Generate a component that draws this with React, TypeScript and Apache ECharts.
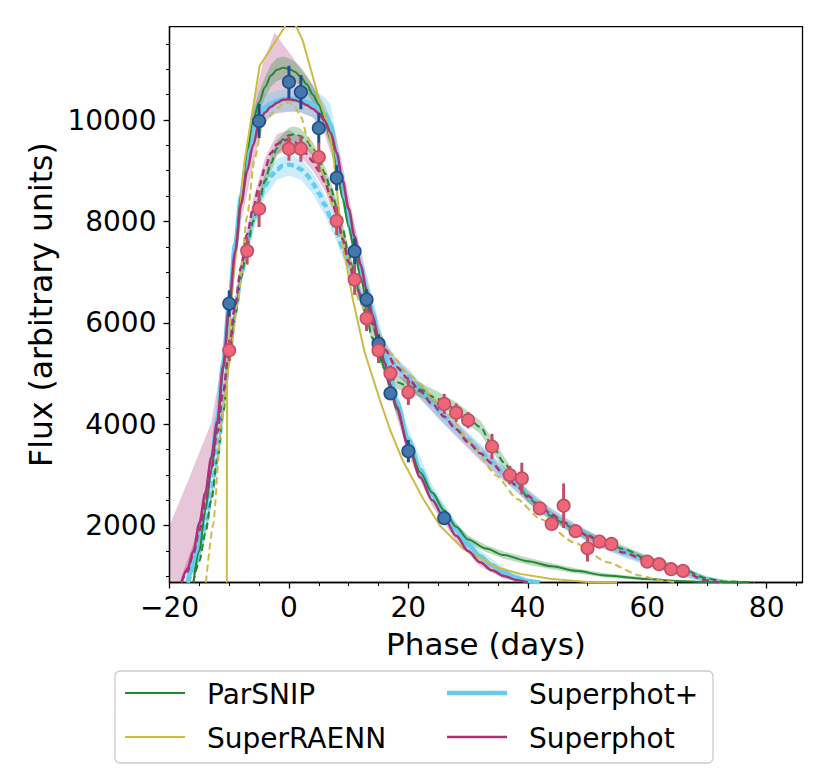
import React, { useEffect, useRef } from "react";
import * as echarts from "echarts";

// ---------- data ----------
const xTicks = [-20, 0, 20, 40, 60, 80];
const xMinorTicks = [-15, -10, -5, 5, 10, 15, 25, 30, 35, 45, 50, 55, 65, 70, 75, 85];
const yTicks = [2000, 4000, 6000, 8000, 10000];
const yMinorTicks = [1000, 1500, 2500, 3000, 3500, 4500, 5000, 5500, 6500, 7000, 7500, 8500, 9000, 9500, 10500, 11000, 11500];

// observations: [phase, flux, error]
const bluePoints = [
  [-10, 6380, 260], [-5, 9980, 340], [0, 10750, 320], [2, 10550, 340], [5, 9840, 300],
  [8, 8860, 250], [11, 7410, 260], [13, 6460, 200], [15, 5590, 180], [17, 4610, 130],
  [20, 3470, 220], [26, 2150, 80],
];
const redPoints = [
  [-10, 5460, 210], [-7, 7420, 270], [-5, 8250, 360], [0, 9435, 240], [2, 9435, 260],
  [5, 9270, 280], [8, 8013, 280], [11, 6853, 300], [13, 6090, 250], [15, 5456, 250],
  [17, 5004, 160], [20, 4630, 250], [26, 4400, 200], [28, 4228, 180], [30, 4080, 160],
  [34, 3562, 250], [37, 2998, 180], [39, 2932, 310], [42, 2343, 130], [44, 2034, 100],
  [46, 2394, 440], [48, 1892, 120], [50, 1555, 260], [52, 1686, 70], [54, 1641, 60],
  [60, 1293, 45], [62, 1241, 45], [64, 1143, 45], [66, 1110, 45],
];

// ParSNIP
const parsnipSolid = [
  [-16, 880], [-15, 1500], [-14, 2300], [-13, 3100], [-12, 4000], [-11, 5100], [-10, 6300],
  [-9, 7400], [-8, 8500], [-7, 9400], [-6, 10000], [-5, 10350], [-4, 10650], [-3, 10880],
  [-2, 10990], [-1, 11030], [0, 11010], [1, 10950], [2, 10850], [3, 10700], [4, 10500],
  [5, 10300], [6, 10000], [7, 9600], [8, 9050], [9, 8450], [10, 7900], [11, 7400], [12, 6900],
  [13, 6450], [14, 6000], [15, 5550], [16, 5100], [17, 4700], [18, 4300], [20, 3600],
  [22, 3050], [24, 2650], [26, 2300], [28, 1980], [30, 1730], [33, 1550], [36, 1420],
  [40, 1300], [44, 1200], [48, 1110], [53, 1020], [60, 950], [65, 910], [70, 890], [76, 880],
];
const parsnipSolidBand = [
  [-16, 880, 950], [-15, 1400, 1600], [-14, 2180, 2420], [-13, 2970, 3230], [-12, 3860, 4140],
  [-11, 4950, 5250], [-10, 6140, 6460], [-9, 7230, 7570], [-8, 8320, 8680], [-7, 9220, 9580],
  [-6, 9810, 10190], [-5, 10150, 10550], [-4, 10450, 10850], [-3, 10660, 11100], [-2, 10770, 11220],
  [-1, 10810, 11250], [0, 10800, 11220], [1, 10760, 11150], [2, 10670, 11040], [3, 10530, 10880],
  [4, 10340, 10670], [5, 10140, 10460], [6, 9850, 10150], [7, 9460, 9740], [8, 8920, 9180],
  [9, 8330, 8570], [10, 7790, 8010], [11, 7290, 7510], [12, 6800, 7000], [13, 6350, 6550],
  [14, 5900, 6100], [15, 5460, 5640], [16, 5010, 5190], [17, 4620, 4780], [18, 4220, 4380],
  [20, 3530, 3670], [22, 2980, 3120], [24, 2580, 2720], [26, 2230, 2370], [28, 1910, 2050],
  [30, 1660, 1800], [33, 1480, 1620], [36, 1350, 1490], [40, 1230, 1370], [44, 1140, 1260],
  [48, 1060, 1160], [53, 980, 1060], [60, 920, 980], [65, 890, 930], [70, 880, 900],
];
const parsnipDashed = [
  [-16, 880], [-15, 1300], [-14, 1850], [-13, 2500], [-12, 3300], [-11, 4250], [-10, 5300],
  [-9, 6150], [-8, 6900], [-7, 7500], [-6, 8000], [-5, 8400], [-4, 8800], [-3, 9150],
  [-2, 9450], [-1, 9620], [0, 9700], [1, 9720], [2, 9680], [3, 9580], [4, 9430], [5, 9250],
  [6, 8950], [7, 8650], [8, 8300], [9, 7850], [10, 7350], [11, 6900], [12, 6500], [13, 6100],
  [14, 5700], [15, 5350], [16, 5100], [17, 4930], [18, 4830], [20, 4750], [22, 4680],
  [25, 4500], [28, 4300], [30, 4120], [32, 3950], [34, 3600], [36, 3250], [38, 2900],
  [40, 2560], [42, 2370], [44, 2190], [46, 2040], [48, 1910], [50, 1800], [53, 1670],
  [56, 1540], [60, 1350], [63, 1240], [66, 1140], [70, 960], [73, 900], [78, 880],
];
const parsnipDashedBand = [
  [-16, 880, 950], [-14, 1750, 1950], [-12, 3180, 3420], [-10, 5160, 5440], [-8, 6770, 7030],
  [-6, 7870, 8130], [-4, 8660, 8940], [-2, 9300, 9600], [0, 9550, 9850], [1, 9570, 9870],
  [2, 9530, 9830], [4, 9290, 9570], [6, 8810, 9090], [8, 8160, 8440], [10, 7210, 7490],
  [12, 6370, 6630], [14, 5580, 5820], [16, 4980, 5220], [18, 4700, 4960], [20, 4610, 4890],
  [22, 4540, 4820], [25, 4360, 4640], [28, 4160, 4440], [30, 3990, 4250], [32, 3820, 4080],
  [34, 3470, 3730], [36, 3130, 3370], [38, 2790, 3010], [40, 2460, 2660], [42, 2280, 2460],
  [44, 2100, 2280], [46, 1960, 2120], [48, 1830, 1990], [50, 1720, 1880], [53, 1600, 1740],
  [56, 1470, 1610], [60, 1290, 1410], [63, 1180, 1300], [66, 1090, 1190], [70, 920, 1000],
  [73, 880, 930], [78, 880, 890],
];

// SuperRAENN
const raennSolid = [
  [-10.4, 880], [-10.35, 4900], [-9.7, 6380], [-7.4, 9213], [-4.9, 11070], [-0.7, 11835],
  [0, 12050], [1, 11900], [2.3, 11570], [3.7, 10980], [5.1, 10390], [6.3, 10000], [7.4, 9350],
  [8.3, 8300], [9.1, 7500], [10.7, 6460], [12.7, 5411], [15.2, 4492], [16.9, 3902], [19, 3300],
  [22.5, 2525], [25.3, 2000], [29.2, 1542], [34.8, 1181], [38.7, 1050], [43.7, 952], [50, 890],
  [55, 880],
];
const raennDashed = [
  [-13.9, 880], [-12.7, 2020], [-11.3, 4034], [-10.8, 4500], [-10, 5200], [-8.6, 6380],
  [-7, 8100], [-5.8, 9213], [-4.4, 9921], [-2.7, 10150], [-1, 10320], [0, 10350], [1, 10250],
  [2.1, 10050], [2.9, 9725], [4, 9397], [5.4, 9003], [7.4, 8295], [9.6, 7400], [11.9, 6394],
  [14.1, 5935], [17, 5400], [20, 5000], [22, 4800], [24.5, 4480], [27, 4164], [30.3, 3640],
  [34.8, 2984], [38.2, 2525], [42.1, 2132], [47.7, 1673], [53.3, 1280], [58.8, 1017],
  [62.2, 920], [65, 880],
];

// Superphot+
const plusSolid = [
  [-17, 880], [-16, 1250], [-15, 1750], [-14, 2400], [-13, 3200], [-12, 4100], [-11, 5200],
  [-10, 6400], [-9, 7550], [-8, 8500], [-7, 9250], [-6, 9800], [-5, 10100], [-4, 10250],
  [-3, 10330], [-2, 10380], [-1, 10410], [0, 10420], [1, 10420], [2, 10400], [3, 10360],
  [4, 10300], [5, 10220], [6, 10130], [7, 9900], [8, 9200], [9, 8600], [10, 8050], [11, 7550],
  [12, 7100], [13, 6650], [14, 6200], [15, 5750], [16, 5320], [17, 4880], [18, 4460],
  [20, 3700], [22, 3100], [24, 2620], [26, 2250], [28, 1920], [30, 1630], [32, 1400],
  [34, 1220], [36, 1080], [38, 980], [40, 910], [42, 880],
];
const plusSolidBand = [
  [-17, 880, 1000], [-16, 1050, 1500], [-14, 2150, 2700], [-12, 3800, 4400], [-10, 6100, 6700],
  [-8, 8200, 8800], [-6, 9550, 10050], [-4, 10000, 10500], [-2, 10150, 10580], [0, 10180, 10620],
  [2, 10150, 10620], [4, 10050, 10600], [6, 9800, 10450], [7, 9500, 10300], [8, 8900, 9600],
  [10, 7800, 8350], [12, 6900, 7450], [14, 6000, 6500], [16, 5100, 5600], [18, 4250, 4700],
  [20, 3500, 3900], [24, 2450, 2800], [28, 1780, 2070], [32, 1300, 1520], [36, 1000, 1170],
  [40, 880, 960], [42, 880, 900],
];
const plusDashed = [
  [-17, 880], [-16, 1100], [-15, 1500], [-14, 2000], [-13, 2650], [-12, 3400], [-11, 4350],
  [-10, 5400], [-9, 6250], [-8, 6950], [-7, 7550], [-6, 8000], [-5, 8400], [-4, 8700],
  [-3, 8900], [-2, 9030], [-1, 9100], [0, 9120], [1, 9100], [2, 9030], [3, 8920], [4, 8750],
  [5, 8560], [6, 8330], [7, 8080], [8, 7800], [9, 7480], [10, 7150], [11, 6850], [12, 6550],
  [13, 6250], [14, 5990], [16, 5490], [18, 5140], [20, 4940], [22, 4660], [24, 4400],
  [26, 4150], [28, 3930], [30, 3690], [32, 3470], [34, 3250], [36, 3030], [38, 2810],
  [40, 2590], [42, 2390], [44, 2215], [46, 2060], [48, 1925], [50, 1800], [53, 1625],
  [56, 1475], [60, 1300], [63, 1185], [66, 1075], [70, 940], [73, 880],
];
const plusDashedBand = [
  [-17, 880, 950], [-15, 1350, 1650], [-13, 2450, 2850], [-11, 4100, 4600], [-10, 5150, 5650],
  [-8, 6700, 7200], [-6, 7780, 8220], [-4, 8480, 8920], [-2, 8820, 9240], [0, 8900, 9320],
  [2, 8820, 9240], [4, 8540, 8960], [6, 8120, 8540], [8, 7600, 8000], [10, 6960, 7340],
  [12, 6380, 6740], [14, 5820, 6160], [16, 5330, 5650], [18, 4980, 5300], [20, 4780, 5100],
  [22, 4500, 4820], [24, 4240, 4560], [26, 3990, 4310], [28, 3770, 4090], [30, 3540, 3840],
  [32, 3320, 3620], [34, 3100, 3400], [36, 2890, 3170], [38, 2670, 2950], [40, 2450, 2720],
  [42, 2260, 2520], [44, 2090, 2340], [46, 1940, 2180], [48, 1810, 2040], [50, 1690, 1910],
  [53, 1520, 1730], [56, 1380, 1570], [60, 1210, 1390], [63, 1100, 1270], [66, 990, 1160],
  [70, 880, 1000], [73, 880, 900],
];

// Superphot
const superSolid = [
  [-18, 880], [-17, 1150], [-16, 1500], [-15, 2050], [-14, 2650], [-13, 3350], [-12, 4050],
  [-11, 5150], [-10, 6350], [-9, 7400], [-8, 8350], [-7, 9000], [-6, 9500], [-5, 9950],
  [-4, 10150], [-3, 10260], [-2, 10340], [-1, 10400], [0, 10410], [1, 10390], [2, 10350],
  [3, 10290], [4, 10220], [5, 10130], [6, 9980], [7, 9750], [8, 9350], [9, 8800], [10, 8250],
  [11, 7700], [12, 7150], [13, 6650], [14, 6150], [15, 5700], [16, 5230], [17, 4780],
  [18, 4350], [20, 3550], [22, 2950], [24, 2500], [26, 2150], [28, 1800], [30, 1500],
  [32, 1280], [34, 1120], [36, 1010], [38, 930], [40, 880],
];
const superSolidBand = [
  [-20, 880, 2000], [-18, 880, 2570], [-16.5, 1300, 3000], [-15, 1800, 3450], [-13, 3100, 4030],
  [-12, 3850, 4700], [-11, 4900, 5500], [-10, 6050, 6550], [-8, 8000, 8800], [-6, 9100, 10300],
  [-4.4, 9920, 11100], [-2.4, 10120, 11725], [-1, 10150, 11495], [0.7, 10170, 11233],
  [2, 10150, 11000], [4, 10050, 10700], [6, 9700, 10300], [7.7, 9100, 9800], [9, 8500, 9100],
  [11, 7400, 7950], [13, 6400, 6900], [15, 5450, 5950], [17, 4550, 5000], [20, 3400, 3700],
  [24, 2380, 2620], [28, 1700, 1900], [32, 1200, 1360], [36, 950, 1070], [40, 880, 900],
];
const superDashed = [
  [-18, 880], [-17, 1100], [-16, 1450], [-15, 1900], [-14, 2450], [-13, 3100], [-12, 3850],
  [-11, 4650], [-10, 5500], [-9, 6350], [-8, 7100], [-7, 7750], [-6, 8250], [-5, 8700],
  [-4, 9050], [-3, 9350], [-2, 9520], [-1, 9600], [0, 9610], [1, 9560], [2, 9460], [3, 9330],
  [4, 9180], [5, 9000], [6, 8780], [7, 8480], [8, 8150], [9, 7650], [10, 7200], [11, 6850],
  [12, 6550], [13, 6250], [14, 5980], [15, 5720], [16, 5480], [18, 5130], [20, 4900],
  [22, 4650], [24, 4400], [26, 4150], [28, 3900], [30, 3650], [32, 3430], [34, 3230],
  [36, 3020], [38, 2800], [40, 2590], [42, 2390], [44, 2220], [46, 2070], [48, 1930],
  [50, 1800], [53, 1620], [56, 1470], [60, 1310], [63, 1200], [66, 1085], [70, 920], [72, 880],
];
const superDashedBand = [
  [-18, 880, 1000], [-16, 1250, 1650], [-14, 2250, 2650], [-12, 3650, 4050], [-10, 5300, 5700],
  [-8, 6920, 7280], [-6, 8060, 8440], [-4, 8850, 9250], [-2, 9320, 9720], [0, 9410, 9810],
  [2, 9270, 9650], [4, 9000, 9360], [6, 8610, 8950], [8, 7980, 8320], [10, 7040, 7360],
  [12, 6390, 6710], [14, 5830, 6130], [16, 5330, 5630], [18, 4980, 5280], [20, 4750, 5050],
  [24, 4250, 4550], [28, 3760, 4040], [32, 3290, 3570], [36, 2890, 3150], [40, 2470, 2710],
  [44, 2110, 2330], [48, 1830, 2030], [53, 1530, 1710], [60, 1230, 1390], [66, 1010, 1160],
  [70, 880, 980], [72, 880, 900],
];

const legendNames = ["ParSNIP", "SuperRAENN", "Superphot+", "Superphot"];

// ---------- styling ----------
const GREEN = "#228833";
const YELLOW = "#CCBB44";
const CYAN = "#66CCEE";
const PURPLE = "#AA3377";
const FONT = "DejaVu Sans";

function bandSeries(band: number[][], color: string, opacity: number) {
  return {
    type: "custom",
    clip: true,
    silent: true,
    z: 1,
    data: [[band[0][0], band[0][1]]],
    encode: { x: 0, y: 1 },
    renderItem: (params: any, api: any) => {
      const top = band.map((b) => api.coord([b[0], b[2]]));
      const bot = band
        .slice()
        .reverse()
        .map((b) => api.coord([b[0], b[1]]));
      return {
        type: "polygon",
        shape: { points: top.concat(bot) },
        style: { fill: color, opacity, stroke: "none" },
      };
    },
  };
}

function lineSeries(name: string, data: number[][], color: string, width: number, dashed: boolean, smooth: any, z = 2) {
  return {
    type: "line",
    name,
    data,
    showSymbol: false,
    symbol: "none",
    smooth,
    smoothMonotone: "x",
    clip: true,
    z,
    lineStyle: { color, width, type: dashed ? [7, 4] : "solid", cap: "butt" },
  };
}

function errSeries(points: number[][], color: string) {
  return {
    type: "custom",
    clip: true,
    silent: true,
    z: 5,
    data: points,
    encode: { x: 0, y: 1 },
    renderItem: (params: any, api: any) => {
      const x = api.value(0);
      const y = api.value(1);
      const e = api.value(2);
      const p1 = api.coord([x, y - e]);
      const p2 = api.coord([x, y + e]);
      return {
        type: "line",
        shape: { x1: p1[0], y1: p1[1], x2: p2[0], y2: p2[1] },
        style: { stroke: color, lineWidth: 3 },
      };
    },
  };
}

function pointSeries(points: number[][], fill: string, edge: string) {
  return {
    type: "scatter",
    data: points.map((p) => [p[0], p[1]]),
    symbol: "circle",
    symbolSize: 12.5,
    z: 6,
    itemStyle: { color: fill, borderColor: edge, borderWidth: 1.6, opacity: 1 },
  };
}

export default function App() {
  const ref = useRef<HTMLDivElement>(null);
  useEffect(() => {
    if (!ref.current) return;
    const chart = echarts.init(ref.current, null, { renderer: "svg" });
    const fmtX = (v: number) => (v < 0 ? "\u2212" + Math.abs(v) : String(v));
    const fmtY = (v: number) => String(v);
    const axisFont = { fontFamily: FONT, fontSize: 28, color: "#000" };

    const legendItems: any[] = [];
    const legendSpec = [
      { name: legendNames[0], color: GREEN, w: 2, x: 125, y: 693 },
      { name: legendNames[1], color: YELLOW, w: 2, x: 125, y: 737 },
      { name: legendNames[2], color: CYAN, w: 4.5, x: 447, y: 693 },
      { name: legendNames[3], color: PURPLE, w: 2.5, x: 447, y: 737 },
    ];
    legendItems.push({
      type: "rect",
      shape: { x: 115, y: 671, width: 598, height: 92, r: 5 },
      style: { fill: "rgba(255,255,255,0.8)", stroke: "#cccccc", lineWidth: 1.3 },
      z: 10,
    });
    legendSpec.forEach((s) => {
      legendItems.push({
        type: "line",
        shape: { x1: s.x, y1: s.y, x2: s.x + 60, y2: s.y },
        style: { stroke: s.color, lineWidth: s.w },
        z: 11,
      });
      legendItems.push({
        type: "text",
        x: s.x + 82,
        y: s.y + 1,
        style: { text: s.name, font: `28px "${FONT}"`, fill: "#000", textVerticalAlign: "middle", textAlign: "left" },
        z: 11,
      });
    });

    chart.setOption({
      animation: false,
      backgroundColor: "#fff",
      grid: {
        left: 169.5,
        right: 27.5,
        top: 26.7,
        bottom: 195.5,
        show: true,
        borderColor: "#000",
        borderWidth: 1.3,
        backgroundColor: "transparent",
      },
      xAxis: [
        {
          type: "value",
          min: -20,
          max: 86,
          name: "Phase (days)",
          nameLocation: "middle",
          nameGap: 46,
          nameTextStyle: { fontFamily: FONT, fontSize: 31, color: "#000" },
          axisLine: { show: true, onZero: false, lineStyle: { color: "#000", width: 1.3 } },
          axisTick: { show: true, length: 6, customValues: xTicks, lineStyle: { color: "#000", width: 1.3 } },
          axisLabel: { ...axisFont, margin: 11, customValues: xTicks, formatter: fmtX },
          splitLine: { show: false },
        },
        {
          type: "value",
          min: -20,
          max: 86,
          position: "bottom",
          axisLine: { show: false, onZero: false },
          axisTick: { show: true, length: 3.5, customValues: xMinorTicks, lineStyle: { color: "#000", width: 1 } },
          axisLabel: { show: false },
          splitLine: { show: false },
        },
      ],
      yAxis: [
        {
          type: "value",
          min: 880,
          max: 11840,
          name: "Flux (arbitrary units)",
          nameLocation: "middle",
          nameGap: 111,
          nameTextStyle: { fontFamily: FONT, fontSize: 31.5, color: "#000" },
          axisLine: { show: true, onZero: false, lineStyle: { color: "#000", width: 1.3 } },
          axisTick: { show: true, length: 6, customValues: yTicks, lineStyle: { color: "#000", width: 1.3 } },
          axisLabel: { ...axisFont, margin: 13, customValues: yTicks, formatter: fmtY },
          splitLine: { show: false },
        },
        {
          type: "value",
          min: 880,
          max: 11840,
          position: "left",
          offset: 0,
          axisLine: { show: false, onZero: false },
          axisTick: { show: true, length: 3.5, customValues: yMinorTicks, lineStyle: { color: "#000", width: 1 } },
          axisLabel: { show: false },
          splitLine: { show: false },
        },
      ],
      graphic: legendItems,
      series: [
        bandSeries(superSolidBand, PURPLE, 0.28),
        bandSeries(superDashedBand, PURPLE, 0.28),
        bandSeries(plusSolidBand, CYAN, 0.35),
        bandSeries(plusDashedBand, CYAN, 0.35),
        bandSeries(parsnipSolidBand, GREEN, 0.3),
        bandSeries(parsnipDashedBand, GREEN, 0.3),
        lineSeries("Superphot+", plusSolid, CYAN, 4.5, false, 0.3),
        lineSeries("Superphot+ r", plusDashed, CYAN, 4.5, true, 0.3),
        lineSeries("ParSNIP", parsnipSolid, GREEN, 2, false, 0.3),
        lineSeries("ParSNIP r", parsnipDashed, GREEN, 2, true, 0.3),
        lineSeries("SuperRAENN", raennSolid, YELLOW, 2, false, false),
        lineSeries("SuperRAENN r", raennDashed, YELLOW, 2, true, 0.2),
        lineSeries("Superphot", superSolid, PURPLE, 2.5, false, 0.3),
        lineSeries("Superphot r", superDashed, PURPLE, 2.5, true, 0.3),
        errSeries(bluePoints, "#1c4f8f"),
        errSeries(redPoints, "#c04f66"),
        pointSeries(bluePoints, "#4477AA", "#1c4f8f"),
        pointSeries(redPoints, "#EE6677", "#c04f66"),
      ],
    });
    return () => chart.dispose();
  }, []);
  return (
    <div
      ref={ref}
      style={{ position: "fixed", left: 0, top: 0, width: 830, height: 778, background: "#fff" }}
    />
  );
}
